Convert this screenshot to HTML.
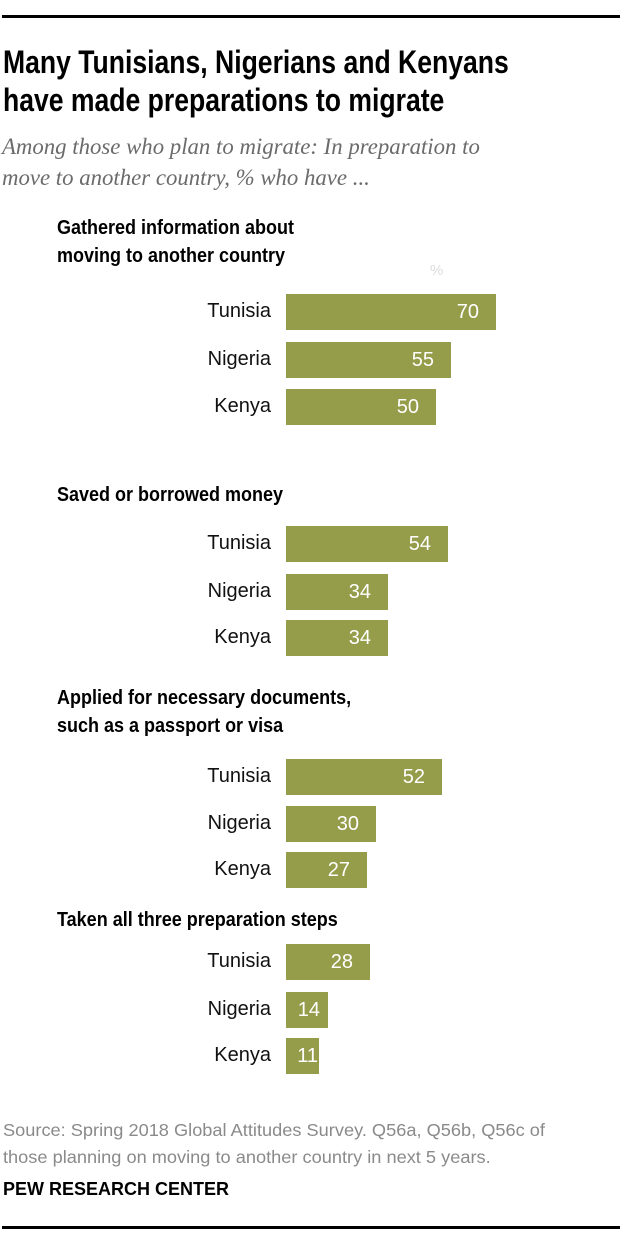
<!DOCTYPE html>
<html><head><meta charset="utf-8"><style>
body{margin:0;background:#fff;width:620px;height:1247px;position:relative;overflow:hidden;font-family:"Liberation Sans",sans-serif}
.a{position:absolute;white-space:nowrap}
.t{font-weight:bold;font-size:32px;color:#000;left:3px;line-height:38px;transform:scaleX(0.83);transform-origin:left;top:43px}
.sub{font-family:"Liberation Serif",serif;font-style:italic;font-size:22.8px;color:#6b6b6b;left:2px;line-height:31px}
.h{font-weight:bold;font-size:20px;left:57px;line-height:28px;transform:scaleX(0.9);transform-origin:left}
.lab{font-size:20px;width:200px;left:71px;text-align:right;color:#111}
.val{font-size:20px;color:#fff;text-align:right}
.bar{background:#959c4a}
.src{font-size:17.5px;color:#8a8a8a;left:3px;line-height:27px;transform:scaleX(1.04);transform-origin:left}
</style></head><body>
<div class="a" style="left:2px;top:15px;width:618px;height:3px;background:#000"></div>
<div class="a t">Many Tunisians, Nigerians and Kenyans<br>have made preparations to migrate</div>
<div class="a sub" style="top:131px">Among those who plan to migrate: In preparation to<br>move to another country, % who have ...</div>
<div class="a" style="left:430px;top:262px;font-size:15px;color:#ddd">%</div>
<div id="chart"></div>
<div class="a src" style="top:1117px">Source: Spring 2018 Global Attitudes Survey. Q56a, Q56b, Q56c of<br>those planning on moving to another country in next 5 years.</div>
<div class="a h" style="left:3px;top:1175px;font-size:18px;transform:none">PEW RESEARCH CENTER</div>
<div class="a" style="left:2px;top:1226px;width:618px;height:3px;background:#000"></div>
<script>
const headers=[["Gathered information about","moving to another country"],["Saved or borrowed money"],["Applied for necessary documents,","such as a passport or visa"],["Taken all three preparation steps"]];
const countries=["Tunisia","Nigeria","Kenya"];
const values=[[70,55,50],[54,34,34],[52,30,27],[28,14,11]];
const headerTops=[214,481,684,906];
const barTops=[[294,342,389],[526,574,620],[759,806,852],[944,992,1038]];
const x0=286,scale=3,bh=36;
const c=document.getElementById('chart');
function x(v){return x0+v*scale;}
headers.forEach((h,i)=>{
  const d=document.createElement('div');
  d.className='a h';d.style.top=headerTops[i]+'px';d.innerHTML=h.join('<br>');
  
  
  c.appendChild(d);
  countries.forEach((cn,j)=>{
    const t=barTops[i][j],v=values[i][j];
    const l=document.createElement('div');
    l.className='a lab';l.style.top=(t+6)+'px';l.textContent=cn;
    
    
    c.appendChild(l);
    const b=document.createElement('div');
    b.className='a bar';b.style.left=x0+'px';b.style.top=t+'px';b.style.width=(x(v)-x0)+'px';b.style.height=bh+'px';
    
    
    c.appendChild(b);
    const vl=document.createElement('div');
    const pad=v>=20?17:(v>=14?8:1);
    vl.className='a val';vl.style.left=(x(v)-80-pad)+'px';vl.style.width='80px';vl.style.top=(t+7)+'px';vl.textContent=v;
    
    
    c.appendChild(vl);
  });
});
</script>
</body></html>
